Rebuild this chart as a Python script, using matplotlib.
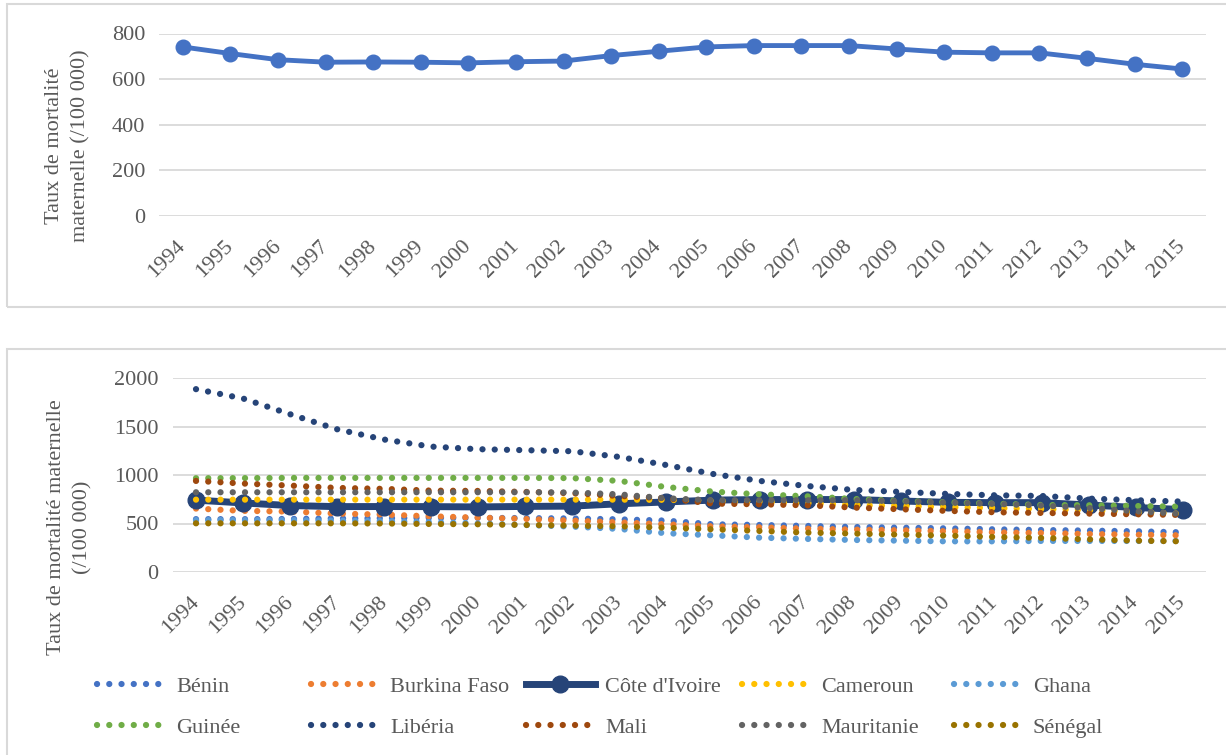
import numpy as np
import matplotlib
matplotlib.use('Agg')
import matplotlib.pyplot as plt
from matplotlib.patches import Rectangle

# Data
years = [str(y) for y in range(1994, 2016)]

cote_ivoire = [741, 712, 685, 674, 675, 674, 671, 676, 679, 703, 722,
               741, 747, 747, 747, 732, 718, 715, 715, 691, 665, 644]

benin = [545, 545, 547, 552, 555, 558, 558, 556, 552, 543, 530,
         492, 485, 475, 464, 457, 450, 440, 433, 427, 420, 409]
burkina = [654, 630, 623, 602, 592, 574, 561, 547, 530, 512, 492,
           471, 461, 447, 437, 430, 420, 409, 402, 392, 385, 378]
cameroun = [746, 746, 746, 746, 746, 746, 746, 746, 746, 746, 744,
            735, 725, 710, 690, 680, 670, 660, 650, 640, 620, 600]
ghana = [535, 535, 535, 530, 525, 515, 500, 485, 468, 444, 400,
         378, 354, 341, 330, 323, 316, 316, 320, 320, 320, 320]
guinee = [967, 968, 970, 970, 970, 970, 970, 970, 968, 939, 877,
          829, 801, 781, 753, 733, 719, 705, 691, 688, 681, 674]
liberia = [1885, 1789, 1627, 1472, 1366, 1293, 1266, 1256, 1245, 1187, 1104,
           1011, 939, 887, 846, 826, 805, 791, 784, 757, 740, 726]
mali = [939, 912, 891, 867, 857, 839, 836, 826, 812, 784, 760,
        705, 698, 688, 664, 647, 630, 616, 609, 602, 595, 588]
mauritanie = [822, 822, 822, 822, 822, 822, 822, 822, 820, 801, 760,
              740, 740, 740, 740, 729, 716, 702, 685, 660, 626, 600]
senegal = [502, 502, 502, 502, 500, 495, 492, 485, 478, 471, 457,
           440, 423, 406, 396, 385, 375, 361, 351, 337, 323, 316]

series = [
    ("Bénin", benin, "#4472C4"),
    ("Burkina Faso", burkina, "#ED7D31"),
    ("Côte d'Ivoire", cote_ivoire, "#264478"),
    ("Cameroun", cameroun, "#FFC000"),
    ("Ghana", ghana, "#5B9BD5"),
    ("Guinée", guinee, "#70AD47"),
    ("Libéria", liberia, "#264478"),
    ("Mali", mali, "#9E480E"),
    ("Mauritanie", mauritanie, "#636363"),
    ("Sénégal", senegal, "#997300"),
]

plt.rcParams['font.family'] = ['Liberation Serif', 'DejaVu Serif']
text_color = '#595959'
grid_color = '#D9D9D9'
fs = 16

W, H = 1226, 755
fig = plt.figure(figsize=(W / 100, H / 100), dpi=100)

# panel frames
fig.patches.append(Rectangle((7 / W, 1 - 307 / H), 1.0, 303 / H, transform=fig.transFigure,
                             fill=False, edgecolor=grid_color, lw=1.5))
fig.patches.append(Rectangle((7 / W, -0.05), 1.0, 1 - 349 / H + 0.05, transform=fig.transFigure,
                             fill=False, edgecolor=grid_color, lw=1.5))


def style_axes(ax, ymax, step):
    x = np.arange(len(years))
    ax.set_xlim(-0.5, len(years) - 0.5)
    ax.set_ylim(0, ymax)
    ax.set_yticks(np.arange(0, ymax + 1, step))
    ax.set_xticks(x)
    ax.set_xticklabels(years, rotation=45, ha='right', va='center', rotation_mode='anchor')
    ax.tick_params(length=0, labelsize=fs, labelcolor=text_color)
    ax.tick_params(axis='x', pad=20)
    ax.tick_params(axis='y', pad=10)
    for s in ax.spines.values():
        s.set_visible(False)
    ax.grid(axis='y', color=grid_color, lw=1.3)
    ax.set_axisbelow(True)
    return x


# top chart
ax1 = fig.add_axes([159 / W, 1 - 215.7 / H, (1206 - 159) / W, (215.7 - 33.5) / H])
x = style_axes(ax1, 800, 200)
ax1.plot(x, cote_ivoire, color='#4472C4', lw=3.5, marker='o', markersize=10.5)
fig.text(68 / W, 1 - 146 / H, "Taux de mortalité\nmaternelle (/100 000)", rotation=90,
         ha='center', va='center', fontsize=fs, color=text_color, linespacing=1.5)

# bottom chart
ax2 = fig.add_axes([172.5 / W, 1 - 572 / H, (1206 - 172.5) / W, (572 - 378) / H])
x = style_axes(ax2, 2000, 500)
handles = []
for name, vals, col in series:
    if name == "Côte d'Ivoire":
        h, = ax2.plot(x, vals, color=col, lw=5, marker='o', markersize=12, label=name)
    else:
        h, = ax2.plot(x, vals, color=col, lw=4.5, linestyle=(0, (0.01, 1.95)),
                      dash_capstyle='round', label=name)
    handles.append(h)
fig.text(70 / W, 1 - 527 / H, "Taux de mortalité maternelle\n(/100 000)", rotation=90,
         ha='center', va='center', fontsize=fs, color=text_color, linespacing=1.5)

# legend: five equal-width columns like the original
col_x = [97, 311, 526, 742, 954]
for i, cx in enumerate(col_x):
    hs = [handles[i], handles[i + 5]]
    fig.legend(hs, [h.get_label() for h in hs], loc='upper left',
               bbox_to_anchor=(cx / W, 1 - 676 / H), bbox_transform=fig.transFigure,
               frameon=False, fontsize=fs, handlelength=3.1, handletextpad=0.45,
               borderpad=0, borderaxespad=0, labelspacing=0.95, labelcolor=text_color)

fig.savefig('out.png', dpi=100)
